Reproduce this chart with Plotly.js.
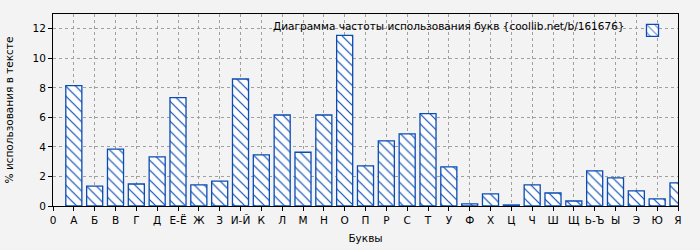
<!DOCTYPE html>
<html>
<head>
<meta charset="utf-8">
<script src="https://cdn.plot.ly/plotly-3.0.1.min.js"></script>
<style>html,body{margin:0;padding:0;background:#f3f3f3;}#chart{width:700px;height:250px;}</style>
</head>
<body>
<div id="chart"></div>
<script>
var letters = ["А","Б","В","Г","Д","Е-Ё","Ж","З","И-Й","К","Л","М","Н","О","П","Р","С","Т","У","Ф","Х","Ц","Ч","Ш","Щ","Ь-Ъ","Ы","Э","Ю","Я"];
var percents = [8.15,1.34,3.85,1.49,3.33,7.34,1.43,1.68,8.60,3.46,6.16,3.64,6.16,11.55,2.72,4.41,4.89,6.25,2.65,0.14,0.82,0.07,1.43,0.88,0.34,2.38,1.90,1.02,0.48,1.56];
var tickLabels = ["0"].concat(letters);
var yTicks = [0,2,4,6,8,10,12];
var titleText = "Диаграмма частоты использования букв {coollib.net/b/161676}";

var positions = letters.map(function(_, i){ return i + 1; });
var tickPositions = tickLabels.map(function(_, i){ return i; });

var blue = "#0a4cb4";
var trace = {
  type: "bar",
  x: positions,
  y: percents,
  width: 0.77,
  name: "",
  showlegend: true,
  marker: {
    color: "#ffffff",
    line: {color: blue, width: 1.3},
    pattern: {shape: "\\", fgcolor: blue, bgcolor: "#ffffff", size: 7, solidity: 0.17}
  },
  hoverinfo: "x+y"
};

var font = {family: "DejaVu Sans, sans-serif", size: 10.5, color: "#000"};
var layout = {
  width: 700, height: 250,
  margin: {l: 53, r: 22, t: 14, b: 44},
  paper_bgcolor: "#f3f3f3",
  plot_bgcolor: "#f3f3f3",
  font: font,
  showlegend: true,
  legend: {
    x: 1.0, y: 0.99, xanchor: "right", yanchor: "top",
    bgcolor: "rgba(0,0,0,0)",
    title: {text: titleText, side: "left", font: font},
    font: font,
    itemwidth: 30,
    tracegroupgap: 0
  },
  xaxis: {
    range: [0, 30],
    tickmode: "array",
    tickvals: tickPositions,
    ticktext: tickLabels,
    ticks: "outside", ticklen: 4, tickcolor: "#000",
    showline: true, linecolor: "#000", linewidth: 1, mirror: true,
    showgrid: true, gridcolor: "#a0a0a0", griddash: "dot", gridwidth: 1,
    zeroline: false,
    title: {text: "Буквы", font: font, standoff: 10},
    tickfont: font
  },
  yaxis: {
    range: [0, 13],
    tickmode: "array",
    tickvals: yTicks,
    ticks: "outside", ticklen: 4, tickcolor: "#000",
    showline: true, linecolor: "#000", linewidth: 1, mirror: true,
    showgrid: true, gridcolor: "#a0a0a0", griddash: "dot", gridwidth: 1,
    zeroline: false,
    title: {text: "% использования в тексте", font: font, standoff: 16},
    tickfont: font
  },
  bargap: 0.2
};

Plotly.newPlot("chart", [trace], layout, {displayModeBar: false, staticPlot: true});
</script>
</body>
</html>
